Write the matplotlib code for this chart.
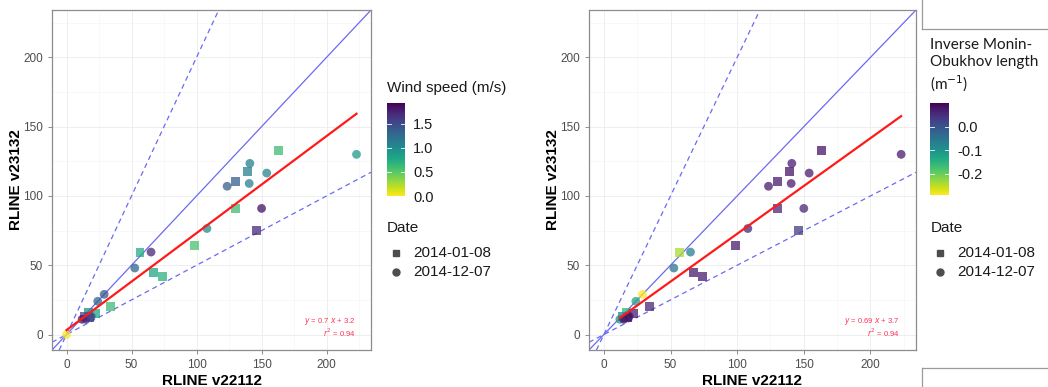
import numpy as np
import matplotlib.pyplot as plt
import matplotlib as mpl
from matplotlib.lines import Line2D

plt.rcParams['font.family'] = ['Liberation Sans', 'DejaVu Sans']

# RLINE concentrations, old vs new version
x_v22112 = [163, 130, 139, 130, 146, 98.5, 56.5, 67, 74, 34, 17, 22, 18, 14,
            223, 141, 123.5, 140.5, 154, 150, 108, 65, 52.5, 29, 24, 12, 15, 19, 0]
y_v23132 = [133, 110.5, 117.5, 91, 75, 64, 59, 44.5, 42, 20, 16, 15, 12, 13,
            130, 123.5, 107, 109, 116.5, 91, 76.5, 59.5, 48, 29, 24, 11, 11, 13, 0]
date = ['2014-01-08'] * 14 + ['2014-12-07'] * 15
wind_speed = [0.6, 1.35, 1.1, 0.6, 1.7, 0.55, 0.75, 0.8, 0.7, 0.6, 1.0, 0.8, 1.6, 1.5,
              0.9, 1.1, 1.35, 1.1, 1.05, 1.85, 1.0, 1.7, 1.3, 1.4, 1.3, 1.85, 1.7, 1.5, 0.0]
inv_mo_length = [0.08, 0.07, 0.08, 0.06, 0.03, 0.07, -0.24, 0.07, 0.07, 0.06, -0.15, 0.07, 0.09, -0.08,
                 0.07, 0.07, 0.07, 0.07, 0.07, 0.06, 0.06, -0.07, -0.05, -0.29, -0.13, -0.1, 0.09, 0.08, np.nan]

fits = [(0.7, 3.2, 0.94), (0.69, 3.7, 0.94)]
date_levels = ['2014-01-08', '2014-12-07']
date_markers = {'2014-01-08': 's', '2014-12-07': 'o'}

x = np.array(x_v22112, dtype=float)
y = np.array(y_v23132, dtype=float)
dates = np.array(date)

W, H = 1048, 387
fig = plt.figure(figsize=(W / 100, H / 100), dpi=100)


def box(l, t, r, b):
    return [l / W, 1 - b / H, (r - l) / W, (b - t) / H]


def panel(ax, cvals, vmin, vmax, fit):
    ax.set_xlim(-11.15, 234.15)
    ax.set_ylim(-11.15, 234.15)
    ax.set_xticks([0, 50, 100, 150, 200])
    ax.set_yticks([0, 50, 100, 150, 200])
    ax.set_xticks([25, 75, 125, 175, 225], minor=True)
    ax.set_yticks([25, 75, 125, 175, 225], minor=True)
    ax.grid(which='major', color='#ebebeb', lw=0.6)
    ax.grid(which='minor', color='#f3f3f3', lw=0.4)
    ax.set_axisbelow(True)
    for s in ax.spines.values():
        s.set_color('#8c8c8c')
        s.set_linewidth(0.9)
    ax.tick_params(which='major', colors='#7a7a7a', labelcolor='#4d4d4d',
                   labelsize=8.5, length=3, width=0.6)
    ax.tick_params(which='minor', length=0)

    # 1:1 and factor-of-2 lines
    ax.axline((0, 0), slope=1, color='#6a6af2', lw=0.9, zorder=2)
    ax.axline((0, 0), slope=2, color='#6a6af2', lw=0.9, ls=(0, (4, 3)), zorder=2)
    ax.axline((0, 0), slope=0.5, color='#6a6af2', lw=0.9, ls=(0, (4, 3)), zorder=2)

    c = np.array(cvals, dtype=float)
    ok = ~np.isnan(c)
    cmap = plt.get_cmap('viridis_r')
    norm = mpl.colors.Normalize(vmin, vmax)
    for d in date_levels:
        m = (dates == d) & ok
        ax.scatter(x[m], y[m], c=c[m], cmap=cmap, norm=norm, marker=date_markers[d],
                   s=40, alpha=0.75, linewidths=0, zorder=3)

    slope, icpt, r2 = fit
    xs = np.array([x[ok].min(), x[ok].max()])
    ax.plot(xs, slope * xs + icpt, color='#ff1a1a', lw=1.6, zorder=4)
    ax.text(222, 9.5, rf'$y$ = {slope:g} $x$ + {icpt:g}', color='#ff3355',
            fontsize=5.5, ha='right', va='center', zorder=5)
    ax.text(222, 1.5, rf'$r^2$ = {r2:.2f}', color='#ff3355',
            fontsize=5.5, ha='right', va='center', zorder=5)

    ax.set_xlabel('RLINE v22112', fontsize=11, fontweight='bold', labelpad=2)
    ax.set_ylabel('RLINE v23132', fontsize=11, fontweight='bold', labelpad=0)
    return cmap, norm


def colorbar(rect, cmap, norm, ticks, labels):
    cax = fig.add_axes(rect)
    cb = mpl.colorbar.ColorbarBase(cax, cmap=cmap, norm=norm, orientation='vertical')
    cb.outline.set_visible(False)
    cb.set_ticks(ticks)
    cb.set_ticklabels(labels)
    cax.tick_params(length=0, labelsize=10.5, labelcolor='#1a1a1a', pad=6)
    for t in ticks:
        cax.axhline(t, xmin=0, xmax=0.2, color='white', lw=0.6)
        cax.axhline(t, xmin=0.8, xmax=1, color='white', lw=0.6)


def date_legend(xm, xt):
    fig.text(xm / W - 0.009, 1 - 228 / H, 'Date', fontsize=11, va='center', color='#1a1a1a')
    for yy, d in zip([253, 272], date_levels):
        fig.add_artist(Line2D([xm / W], [1 - yy / H], marker=date_markers[d], color='#4d4d4d',
                              markersize=5, lw=0))
        fig.text(xt / W, 1 - yy / H, d, fontsize=11, va='center', color='#1a1a1a')


# left: coloured by wind speed
ax1 = fig.add_axes(box(52, 10, 371, 350))
cmap, norm = panel(ax1, wind_speed, 0.0, 1.93, fits[0])
fig.text(387 / W, 1 - 88 / H, 'Wind speed (m/s)', fontsize=11, va='center', color='#1a1a1a')
colorbar(box(387, 103, 405, 196), cmap, norm, [0.0, 0.5, 1.0, 1.5], ['0.0', '0.5', '1.0', '1.5'])
date_legend(396, 413)

# right: coloured by inverse Monin-Obukhov length
ax2 = fig.add_axes(box(589, 10, 916, 350))
cmap, norm = panel(ax2, inv_mo_length, -0.29, 0.10, fits[1])
fig.text(930 / W, 1 - 66 / H, 'Inverse Monin-\nObukhov length\n(m$^{-1}$)', fontsize=11,
         va='center', color='#1a1a1a', family=['Lato', 'DejaVu Sans'], linespacing=1.25)
colorbar(box(930, 103, 949, 195), cmap, norm, [-0.2, -0.1, 0.0], ['-0.2', '-0.1', '0.0'])
date_legend(940, 957)

# frame lines at the right edge
for xs_, ys_ in [([921.7, 921.7], [0, 29.3]), ([921.7, 1048], [29.3, 29.3]),
                 ([921.7, 1048], [367.7, 367.7]), ([921.7, 921.7], [367.7, 387])]:
    fig.add_artist(Line2D([v / W for v in xs_], [1 - v / H for v in ys_], color='#9a9a9a', lw=0.9))

fig.savefig('out.png', dpi=100)
